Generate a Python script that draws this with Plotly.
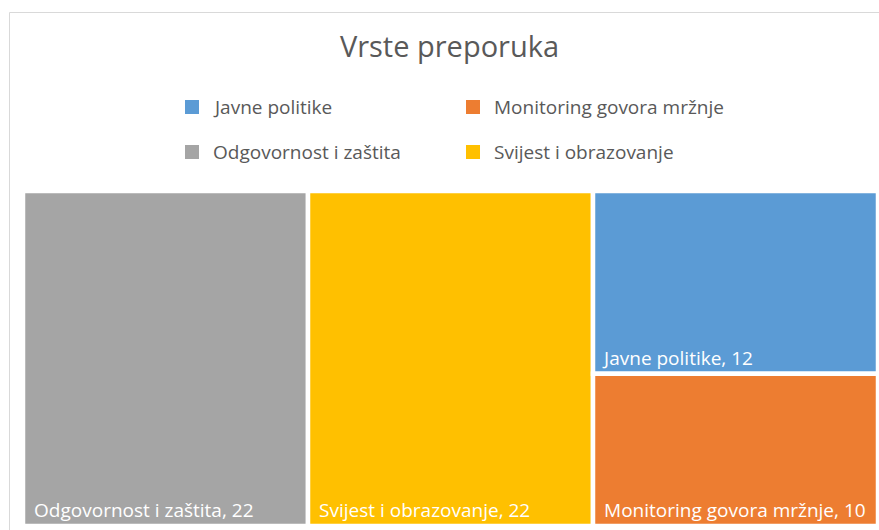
import plotly.graph_objects as go

# Data
categories = ["Odgovornost i zaštita", "Svijest i obrazovanje", "Javne politike", "Monitoring govora mržnje"]
values = [22, 22, 12, 10]
colors = ["#A5A5A5", "#FFC000", "#5B9BD5", "#ED7D31"]

legend_order = ["Javne politike", "Monitoring govora mržnje", "Odgovornost i zaštita", "Svijest i obrazovanje"]

W, H = 879, 530
ml, mr, mt, mb = 23, 1, 191, 4

fig = go.Figure(go.Treemap(
    labels=categories,
    parents=[""] * len(categories),
    values=values,
    marker=dict(colors=colors, line=dict(color="white", width=4.5), pad=dict(t=0, l=0, r=0, b=0)),
    tiling=dict(packing="squarify", pad=0),
    texttemplate="\u00a0\u2009%{label}, %{value}",
    textposition="bottom left",
    textfont=dict(family="Open Sans", size=19, color="white"),
    hoverinfo="label+value",
    sort=True,
))

shapes = []
annotations = []

pw = W - ml - mr
ph = H - mt - mb
def px_x(x):  # page x -> paper
    return (x - ml) / pw
def px_y(y):  # page y -> paper
    return (H - mb - y) / ph

# chart frame
shapes.append(dict(type="rect", xref="paper", yref="paper",
                   x0=px_x(9.5), x1=px_x(900), y0=px_y(600), y1=px_y(12.5),
                   line=dict(color="#D9D9D9", width=1), fillcolor="rgba(0,0,0,0)", layer="below"))

# legend
col_x = [185, 466]
row_y = [107, 152]
for i, name in enumerate(legend_order):
    cx = col_x[i % 2]
    cy = row_y[i // 2]
    c = colors[categories.index(name)]
    shapes.append(dict(type="rect", xref="paper", yref="paper",
                       x0=px_x(cx), x1=px_x(cx + 14), y0=px_y(cy + 7), y1=px_y(cy - 7),
                       line=dict(width=0), fillcolor=c))
    annotations.append(dict(text=name, xref="paper", yref="paper", x=px_x(cx + 26), y=px_y(cy),
                            xanchor="left", yanchor="middle", showarrow=False,
                            font=dict(family="Open Sans", size=19, color="#595959")))

fig.update_layout(
    width=W, height=H,
    margin=dict(l=ml, r=mr, t=mt, b=mb),
    paper_bgcolor="white",
    title=dict(text="Vrste preporuka", x=px_x(449.5), xref="paper", xanchor="center",
               y=1 - 47 / H, yanchor="middle",
               font=dict(family="Open Sans", size=29, color="#595959")),
    shapes=shapes,
    annotations=annotations,
)

fig.write_html(
    "out.html",
    config={"displayModeBar": False},
    post_script="document.body.style.margin='0';document.body.style.overflow='hidden';",
)
